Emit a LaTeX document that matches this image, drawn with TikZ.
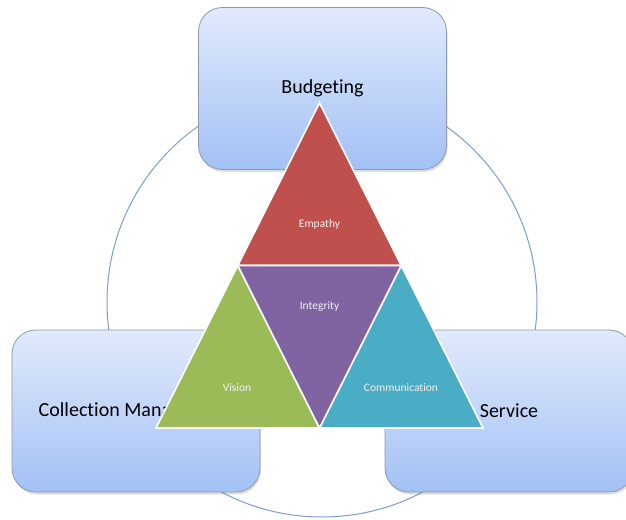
\documentclass[tikz,border=0pt]{standalone}
\usepackage{fontspec}
\setmainfont[Ligatures=NoCommon]{Carlito}
\usetikzlibrary{shadows}
\definecolor{boxtop}{HTML}{E1EAFC}
\definecolor{boxbot}{HTML}{A3C1F5}
\definecolor{boxline}{HTML}{8E99AB}
\definecolor{ringcol}{HTML}{7C9DCB}
\definecolor{tred}{HTML}{C0504D}
\definecolor{tgreen}{HTML}{9BBB59}
\definecolor{tpurple}{HTML}{8064A2}
\definecolor{tteal}{HTML}{4BACC6}
\begin{document}
\begin{tikzpicture}[x=1pt,y=-1pt,
  box/.style={draw=boxline, line width=0.8pt, rounded corners=24pt,
    top color=boxtop, bottom color=boxbot,
    minimum width=248pt, minimum height=162pt, inner sep=0pt,
    font=\fontsize{20}{24}\selectfont, text=black,
    drop shadow={opacity=0.25, shadow xshift=1pt, shadow yshift=-2.5pt}},
  tri/.style={draw=white, line width=1.6pt, line join=miter},
  lab/.style={font=\fontsize{11.5}{13}\selectfont, text=white!94!black, inner sep=0pt},
  ring/.style={draw=ringcol, line width=1pt}]
\useasboundingbox (0,0) rectangle (626,519);
% ring
\coordinate (C) at (322,302);
\draw[ring] (C) circle[radius=215pt];
% boxes
\node[box] (bud) at (322.5,88.5) {Budgeting};
\node[box] (col) at (136,411) {Collection Management};
\node[box] (ser) at (509,411) {Service};
% triangle vertices
\coordinate (T) at (319.5,103);
\coordinate (L) at (156,428);
\coordinate (R) at (483,428);
\coordinate (ML) at (237.75,265.5);
\coordinate (MR) at (401.25,265.5);
\coordinate (MB) at (319.5,428);
% triangles
\filldraw[tri, fill=tred] (T) -- (ML) -- (MR) -- cycle;
\filldraw[tri, fill=tgreen] (ML) -- (L) -- (MB) -- cycle;
\filldraw[tri, fill=tteal] (MR) -- (MB) -- (R) -- cycle;
\filldraw[tri, fill=tpurple] (ML) -- (MR) -- (MB) -- cycle;
% labels
\node[lab] (emp) at (319.5,224) {Empathy};
\node[lab] (int) at (319.5,307) {Integrity};
\node[lab] (vis) at (237,388) {Vision};
\node[lab] (com) at (401,388) {Communication};
\end{tikzpicture}
\end{document}
